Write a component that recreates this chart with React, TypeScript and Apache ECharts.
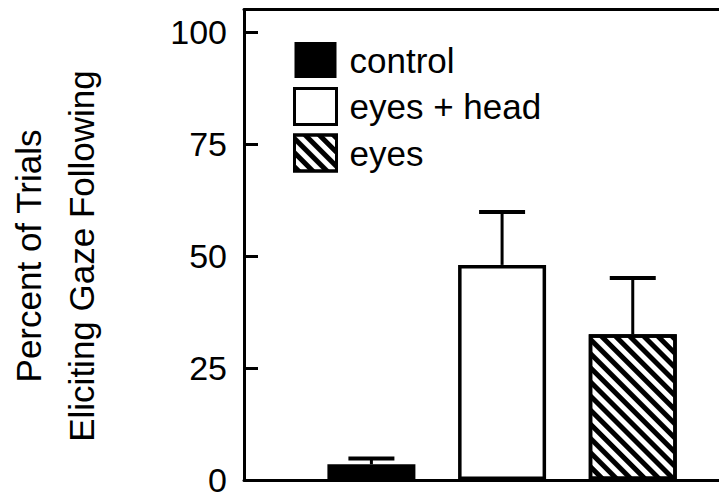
import React, { useEffect, useRef } from "react";
import * as echarts from "echarts";

const categories = ["control", "eyes + head", "eyes"];
const positions = [1, 2, 3];
const means = [3.5, 48, 32.5];
const errorTops = [4.8, 59.8, 45.1];
const yTicks = [0, 25, 50, 75, 100];
const yTitleLines = ["Percent of Trials", "Eliciting Gaze Following"];

const FONT = "'Liberation Sans', Arial, Helvetica, sans-serif";

export default function App() {
  const ref = useRef<HTMLDivElement>(null);
  useEffect(() => {
    if (!ref.current) return;
    const chart = echarts.init(ref.current, undefined, { renderer: "svg" });
    const hatch = {
      symbol: "rect",
      symbolSize: 1,
      color: "#000",
      dashArrayX: [1, 0],
      dashArrayY: [5, 5],
      rotation: Math.PI / 4,
    };
    const styles: any[] = [
      { color: "#000", borderColor: "#000", borderWidth: 0 },
      { color: "#fff", borderColor: "#000", borderWidth: 3.5 },
      { color: "#fff", borderColor: "#000", borderWidth: 3.5, decal: hatch },
    ];
    const barSeries = categories.map((name, i) => ({
      name,
      type: "bar",
      data: [[positions[i], means[i]]],
      barWidth: 88,
      barGap: "-100%",
      itemStyle: styles[i],
      z: 2,
    }));
    const option: any = {
      animation: false,
      textStyle: { fontFamily: FONT },
      grid: { left: 244, right: 0, top: 9.5, bottom: 14.5 },
      xAxis: [
        {
          type: "value",
          min: 0.025,
          max: 3.66,
          axisLine: { show: true, onZero: false, lineStyle: { color: "#000", width: 3 } },
          axisTick: { show: false },
          axisLabel: { show: false },
          splitLine: { show: false },
        },
        {
          type: "value",
          position: "top",
          min: 0.025,
          max: 3.66,
          axisLine: { show: true, onZero: false, lineStyle: { color: "#000", width: 3 } },
          axisTick: { show: false },
          axisLabel: { show: false },
          splitLine: { show: false },
        },
      ],
      yAxis: {
        type: "value",
        min: 0,
        max: 105,
        interval: 25,
        axisLine: { show: true, onZero: false, lineStyle: { color: "#000", width: 3 } },
        axisTick: { show: true, inside: true, length: 14, lineStyle: { color: "#000", width: 3 } },
        axisLabel: {
          color: "#000",
          fontSize: 34,
          lineHeight: 24,
          padding: [0, 0, 3, 0],
          fontFamily: FONT,
          margin: 17,
          formatter: (v: number) => (yTicks.includes(v) ? String(v) : ""),
        },
        splitLine: { show: false },
      },
      legend: {
        orient: "vertical",
        left: 293,
        top: 37,
        padding: 0,
        itemWidth: 42,
        itemHeight: 36,
        itemGap: 0.5,
        icon: "rect",
        selectedMode: false,
        textStyle: { color: "#000", fontSize: 35, fontFamily: FONT, lineHeight: 38, padding: [8, 0, 0, 8] },
        data: categories.map((name, i) => ({ name, itemStyle: { ...styles[i], borderWidth: i === 0 ? 0 : 3 } })),
      },
      graphic: yTitleLines.map((t, i) => ({
        type: "text",
        x: i === 0 ? 28 : 81,
        y: 256,
        rotation: Math.PI / 2,
        style: {
          text: t,
          fill: "#000",
          font: `35px ${FONT}`,
          textAlign: "center",
          textVerticalAlign: "middle",
        },
      })),
      series: [
        ...barSeries,
        {
          type: "custom",
          name: "error",
          data: positions.map((p, i) => [p, means[i], errorTops[i]]),
          encode: { x: 0, y: 2 },
          z: 3,
          renderItem: (params: any, api: any) => {
            const x = api.value(0);
            const top = api.coord([x, api.value(1)]);
            const err = api.coord([x, api.value(2)]);
            return {
              type: "group",
              children: [
                {
                  type: "line",
                  shape: { x1: top[0], y1: top[1], x2: err[0], y2: err[1] },
                  style: { stroke: "#000", lineWidth: 3 },
                },
                {
                  type: "line",
                  shape: { x1: err[0] - 23, y1: err[1], x2: err[0] + 23, y2: err[1] },
                  style: { stroke: "#000", lineWidth: 4 },
                },
              ],
            };
          },
        },
      ],
    };
    chart.setOption(option);
    return () => chart.dispose();
  }, []);
  return (
    <div
      ref={ref}
      style={{ position: "absolute", left: 0, top: 0, width: 719, height: 497, background: "#fff" }}
    />
  );
}
